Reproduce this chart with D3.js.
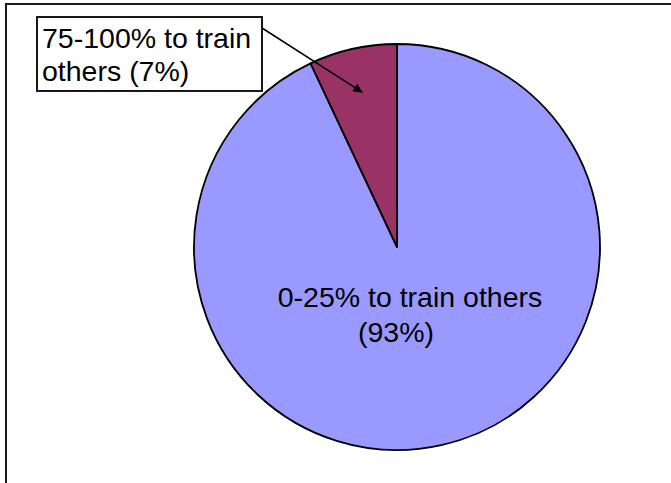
<!DOCTYPE html>
<html>
<head>
<meta charset="utf-8">
<script src="https://cdn.jsdelivr.net/npm/d3@7"></script>
<style>
  html, body { margin: 0; padding: 0; background: #fff; }
  svg { display: block; font-family: "Liberation Sans", Arial, sans-serif; }
</style>
</head>
<body>
<svg id="chart" width="671" height="483"></svg>
<script>
// Share of time spent training others
const categories = ["0-25% to train others", "75-100% to train others"];
const values = [93, 7];
const colors = ["#9999FF", "#993366"];
// word index where each data label wraps onto its second line
const wrapAt = [4, 3];

const svg = d3.select("#chart");

// chart-area frame
svg.append("rect")
  .attr("x", 6).attr("y", 4)
  .attr("width", 720).attr("height", 520)
  .attr("fill", "#fff")
  .attr("stroke", "#1a1a1a").attr("stroke-width", 2);

const cx = 397, cy = 247, r = 203;

const pie = d3.pie().sort(null).value(d => d.v);
const arcs = pie(categories.map((c, i) => ({ c, v: values[i], i })));
const arc = d3.arc().innerRadius(0).outerRadius(r);

const g = svg.append("g").attr("transform", `translate(${cx},${cy})`);
g.selectAll("path.slice")
  .data(arcs)
  .join("path")
  .attr("class", "slice")
  .attr("d", arc)
  .attr("fill", d => colors[d.data.i])
  .attr("stroke", "#000")
  .attr("stroke-width", 1.8)
  .attr("stroke-linejoin", "round");

function labelLines(i) {
  const words = (categories[i] + " (" + values[i] + "%)").split(" ");
  return [words.slice(0, wrapAt[i]).join(" "), words.slice(wrapAt[i]).join(" ")];
}

const fs = 28.5;

// label inside the large slice
const big = labelLines(0);
const bigText = svg.append("text")
  .attr("font-size", fs)
  .attr("fill", "#000")
  .attr("text-anchor", "middle");
bigText.append("tspan").attr("x", 410).attr("y", 307).text(big[0]);
bigText.append("tspan").attr("x", 396).attr("y", 342).text(big[1]);

// callout for the small slice
const small = labelLines(1);
const mid = (arcs[1].startAngle + arcs[1].endAngle) / 2;
const tip = [cx + Math.sin(mid) * r * 0.78, cy - Math.cos(mid) * r * 0.78];

svg.append("defs").append("marker")
  .attr("id", "arrow")
  .attr("viewBox", "0 0 10 10")
  .attr("refX", 10).attr("refY", 5)
  .attr("markerWidth", 11).attr("markerHeight", 9)
  .attr("markerUnits", "userSpaceOnUse")
  .attr("orient", "auto")
  .append("path").attr("d", "M0,0 L10,5 L0,10 Z").attr("fill", "#000");

svg.append("line")
  .attr("x1", 262).attr("y1", 28)
  .attr("x2", tip[0]).attr("y2", tip[1])
  .attr("stroke", "#000").attr("stroke-width", 1.5)
  .attr("marker-end", "url(#arrow)");

svg.append("rect")
  .attr("x", 37).attr("y", 17)
  .attr("width", 225).attr("height", 74)
  .attr("fill", "#fff")
  .attr("stroke", "#000").attr("stroke-width", 1.8);

const smallText = svg.append("text")
  .attr("font-size", fs)
  .attr("fill", "#000");
smallText.append("tspan").attr("x", 42).attr("y", 48).text(small[0]);
smallText.append("tspan").attr("x", 42).attr("y", 81).text(small[1]);
</script>
</body>
</html>
